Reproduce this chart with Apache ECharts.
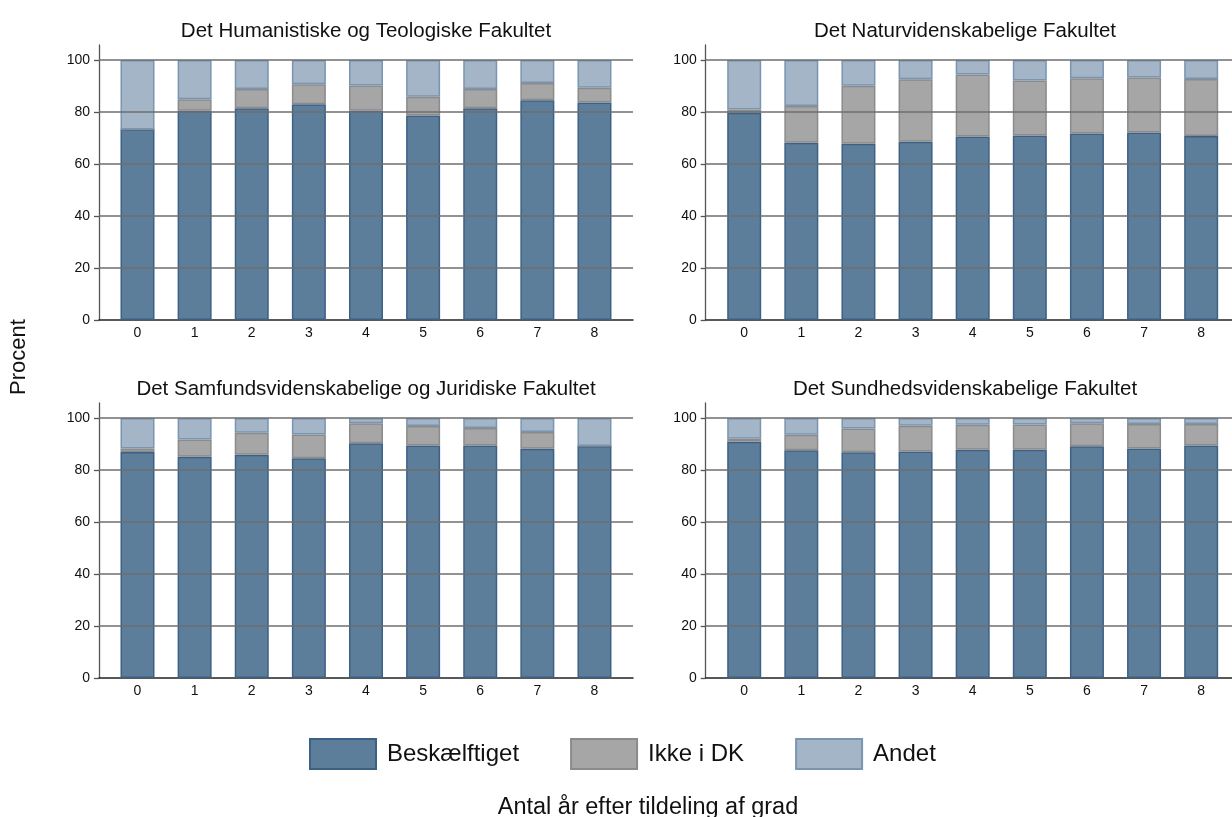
<!DOCTYPE html>
<html>
<head>
<meta charset="utf-8">
<script src="https://cdn.jsdelivr.net/npm/echarts@6/dist/echarts.min.js"></script>
<style>html,body{margin:0;padding:0;background:#fff}#c{width:1232px;height:817px}</style>
</head>
<body>
<div id="c"></div>
<script>
// ---- data ----
var years = ['0', '1', '2', '3', '4', '5', '6', '7', '8'];
var yTicks = [0, 20, 40, 60, 80, 100];
var gridVals = [20, 40, 60, 80, 100];
var seriesNames = ['Beskælftiget', 'Ikke i DK', 'Andet'];
var panelTitles = [
  'Det Humanistiske og Teologiske Fakultet',
  'Det Naturvidenskabelige Fakultet',
  'Det Samfundsvidenskabelige og Juridiske Fakultet',
  'Det Sundhedsvidenskabelige Fakultet'
];
var humBesk  = [73.3, 80.5, 81.4, 83.0, 80.5, 78.7, 81.4, 84.5, 83.7];
var humIkke  = [0.0, 4.4, 7.4, 7.7, 9.7, 7.2, 7.4, 6.7, 5.6];
var humAndet = [26.7, 15.1, 11.2, 9.3, 9.8, 14.1, 11.2, 8.8, 10.7];
var natBesk  = [79.7, 68.2, 67.8, 68.6, 70.6, 71.0, 71.7, 72.1, 70.8];
var natIkke  = [1.3, 14.1, 22.3, 24.0, 23.8, 21.1, 21.3, 21.2, 21.9];
var natAndet = [19.0, 17.7, 9.9, 7.4, 5.6, 7.9, 7.0, 6.7, 7.3];
var samBesk  = [86.9, 85.1, 85.9, 84.5, 90.3, 89.4, 89.4, 88.2, 89.2];
var samIkke  = [1.4, 6.6, 8.4, 9.2, 7.7, 7.5, 6.8, 6.4, 0.0];
var samAndet = [11.7, 8.3, 5.7, 6.3, 2.0, 3.1, 3.8, 5.4, 10.8];
var sundBesk  = [90.9, 87.6, 86.8, 87.1, 87.8, 87.8, 89.1, 88.3, 89.4];
var sundIkke  = [1.1, 6.0, 9.2, 9.9, 9.6, 9.7, 8.9, 9.4, 8.3];
var sundAndet = [8.0, 6.4, 4.0, 3.0, 2.6, 2.5, 2.0, 2.3, 2.3];

var panels = [
  [humBesk, humIkke, humAndet],
  [natBesk, natIkke, natAndet],
  [samBesk, samIkke, samAndet],
  [sundBesk, sundIkke, sundAndet]
];

// ---- styles / layout ----
var FONT = "'Liberation Sans', Arial, sans-serif";
var fills = ['#5d7e9b', '#a6a6a6', '#a3b5c6'];
var borders = ['#3d6085', '#8b8b8b', '#7995b1'];
var panelLeft = [99, 705.7, 99, 705.7];
var panelTop = [45, 45, 403, 403];
var PW = 534, PH = 275, INNER_OFF = 9.94, INNER_W = 514.1, YMAX = 105.77;
var titleCenters = [[361, 16], [960, 16], [361, 374], [960, 374]];

var grids = [], xAxes = [], yAxes = [], series = [], titles = [];
panels.forEach(function (p, gi) {
  var outer = grids.length;
  // outer grid: axis frame, y ticks and gridlines
  grids.push({left: panelLeft[gi], top: panelTop[gi], width: PW, height: PH});
  xAxes.push({
    type: 'value', gridIndex: outer, min: 0, max: 1,
    axisLine: {show: true, onZero: false, lineStyle: {color: '#222', width: 1.5}},
    axisTick: {show: false}, splitLine: {show: false}, axisLabel: {show: false}
  });
  yAxes.push({
    type: 'value', gridIndex: outer, min: 0, max: YMAX,
    axisLine: {show: true, onZero: false, lineStyle: {color: '#555', width: 1.3}},
    axisTick: {show: true, length: 5, customValues: yTicks, lineStyle: {color: '#555', width: 1.3}},
    splitLine: {show: false},
    axisLabel: {customValues: yTicks, color: '#111', fontSize: 14, fontFamily: FONT, margin: 9}
  });
  series.push({
    type: 'line', xAxisIndex: outer, yAxisIndex: outer, data: [], silent: true,
    markLine: {
      silent: true, symbol: ['none', 'none'], z: 5, animation: false,
      label: {show: false},
      lineStyle: {color: '#6e6e6e', width: 1.5, type: 'solid'},
      data: gridVals.map(function (v) { return {yAxis: v}; })
    }
  });
  // inner grid: stacked bars on category axis
  var inner = grids.length;
  grids.push({left: panelLeft[gi] + INNER_OFF, top: panelTop[gi], width: INNER_W, height: PH});
  xAxes.push({
    type: 'category', gridIndex: inner, data: years,
    axisLine: {show: false}, axisTick: {show: false}, splitLine: {show: false},
    axisLabel: {color: '#111', fontSize: 14, fontFamily: FONT, margin: 6}
  });
  yAxes.push({type: 'value', gridIndex: inner, min: 0, max: YMAX, show: false});
  titles.push({
    text: panelTitles[gi], left: titleCenters[gi][0], top: titleCenters[gi][1], textAlign: 'center',
    textStyle: {fontSize: 20.5, fontWeight: 'normal', color: '#111', fontFamily: FONT}
  });
  p.forEach(function (vals, si) {
    series.push({
      name: seriesNames[si], type: 'bar', stack: 'st' + gi,
      xAxisIndex: inner, yAxisIndex: inner, barWidth: 34,
      itemStyle: {color: fills[si], borderColor: borders[si], borderWidth: 1.5},
      data: vals,
      animation: false
    });
  });
});

titles.push({
  text: 'Antal år efter tildeling af grad', left: 643, top: 791, textAlign: 'center',
  textStyle: {fontSize: 23.5, fontWeight: 'normal', color: '#111', fontFamily: FONT}
});

var chart = echarts.init(document.getElementById('c'), null, {renderer: 'canvas'});
chart.setOption({
  animation: false,
  backgroundColor: '#fff',
  title: titles,
  grid: grids,
  xAxis: xAxes,
  yAxis: yAxes,
  legend: {
    data: seriesNames, left: 304, top: 733, itemWidth: 66, itemHeight: 30, itemGap: 51,
    icon: 'rect',
    textStyle: {fontSize: 24, color: '#111', fontFamily: FONT, padding: [0, 0, 0, 6]}
  },
  graphic: [{
    type: 'text', x: 19, y: 357, rotation: Math.PI / 2,
    style: {text: 'Procent', fill: '#111', font: '22px ' + FONT, textAlign: 'center', textVerticalAlign: 'middle'}
  }],
  series: series
});
</script>
</body>
</html>
